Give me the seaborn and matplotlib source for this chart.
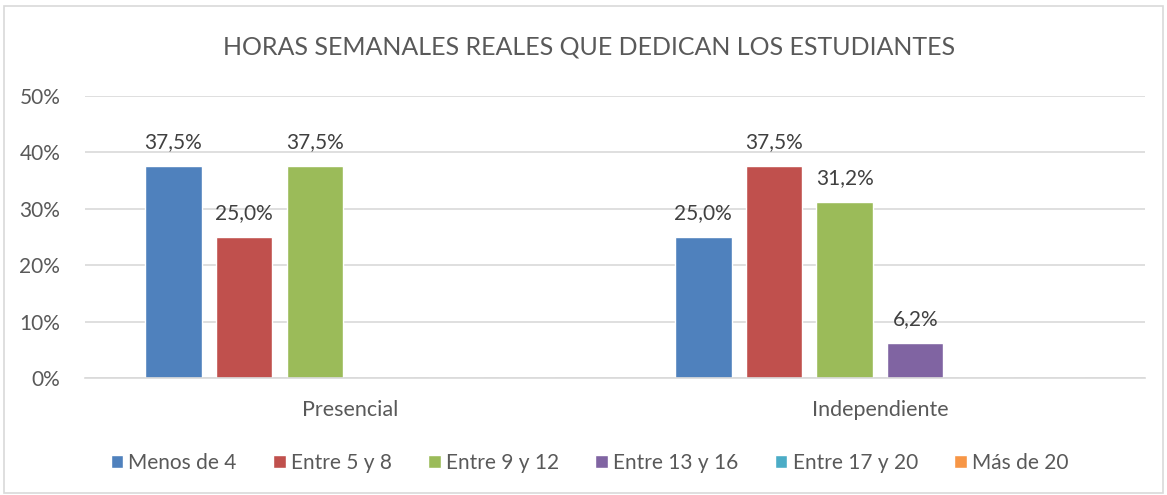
import pandas as pd
import matplotlib
matplotlib.use("Agg")
import matplotlib.pyplot as plt
from matplotlib.ticker import PercentFormatter, MultipleLocator
from matplotlib.patches import Rectangle
import seaborn as sns

sns.set_style("white")
plt.rcParams['font.family'] = ['Lato', 'DejaVu Sans']

categories = ['Presencial', 'Independiente']
series = ['Menos de 4', 'Entre 5 y 8', 'Entre 9 y 12', 'Entre 13 y 16', 'Entre 17 y 20', 'Más de 20']
presencial = [0.375, 0.250, 0.375, 0.0, 0.0, 0.0]
independiente = [0.250, 0.375, 0.312, 0.062, 0.0, 0.0]
colors = ['#4F81BD', '#C0504D', '#9BBB59', '#8064A2', '#4BACC6', '#F79646']

rows = []
for cat, vals in zip(categories, [presencial, independiente]):
    for s, v in zip(series, vals):
        rows.append({'tipo': cat, 'horas': s, 'valor': v})
df = pd.DataFrame(rows)

fig = plt.figure(figsize=(11.67, 4.95), dpi=100)
ax = fig.add_axes([0.073, 0.2364, 0.908, 0.5697])

sns.barplot(data=df, x='tipo', y='valor', hue='horas', order=categories,
            hue_order=series, palette=colors, width=0.8, gap=0.2,
            saturation=1, ax=ax, legend=True)

ax.set_ylim(0, 0.5)
ax.yaxis.set_major_locator(MultipleLocator(0.1))
ax.yaxis.set_major_formatter(PercentFormatter(1.0, decimals=0))
ax.grid(axis='y', color='#d9d9d9', linewidth=1.2)
ax.set_axisbelow(True)
for side in ['top', 'right', 'left']:
    ax.spines[side].set_visible(False)
ax.spines['bottom'].set_color('#d9d9d9')
ax.spines['bottom'].set_linewidth(1.2)
ax.tick_params(axis='y', length=0, labelsize=15, colors='#595959', pad=18)
ax.tick_params(axis='x', length=0, labelsize=15.5, colors='#595959', pad=16)
ax.set_xlabel('')
ax.set_ylabel('')

for container in ax.containers:
    labels = [f'{b.get_height() * 100:.1f}%'.replace('.', ',') if b.get_height() > 0 else ''
              for b in container]
    ax.bar_label(container, labels=labels, padding=10, fontsize=15, color='#404040')

ax.legend(loc='center', bbox_to_anchor=(0.476, -0.30), ncol=6, frameon=False,
          fontsize=15, handlelength=0.6, handleheight=0.6, handletextpad=0.25,
          columnspacing=1.75, labelcolor='#595959')

fig.text(0.505, 0.905, 'HORAS SEMANALES REALES QUE DEDICAN LOS ESTUDIANTES',
         ha='center', va='center', fontsize=18, color='#595959')

fig.patches.append(Rectangle((0.003, 0.004), 0.994, 0.984, transform=fig.transFigure,
                             fill=False, edgecolor='#d9d9d9', linewidth=1.2))

fig.savefig('out.png', dpi=100)
